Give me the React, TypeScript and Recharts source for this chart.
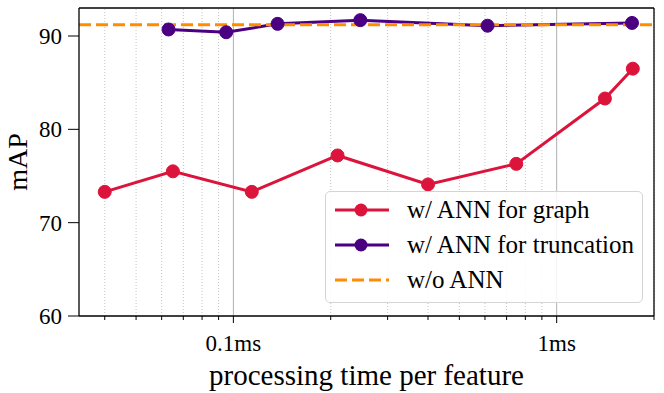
import { LineChart, Line, XAxis, YAxis, ReferenceLine, Legend } from "recharts";

// w/ ANN for graph
const graphTime = [0.04, 0.065, 0.114, 0.21, 0.4, 0.75, 1.41, 1.72];
const graphMAP = [73.3, 75.5, 73.3, 77.2, 74.1, 76.3, 83.3, 86.5];

// w/ ANN for truncation
const truncTime = [0.063, 0.095, 0.137, 0.247, 0.611, 1.71];
const truncMAP = [90.7, 90.4, 91.3, 91.7, 91.1, 91.4];

// w/o ANN
const baselineMAP = 91.2;

const majorTicks = [0.1, 1];
const majorLabels = ["0.1ms", "1ms"];
const minorTicks = [0.04, 0.05, 0.06, 0.07, 0.08, 0.09, 0.2, 0.3, 0.4, 0.5, 0.6, 0.7, 0.8, 0.9, 2];
const yTicks = [60, 70, 80, 90];

const xDomain = [0.0333, 2.0];
const yDomain = [60, 93];

const RED = "#dc143c";
const PURPLE = "#4b0082";
const ORANGE = "#ff8c00";
const FONT = "Liberation Serif, Times New Roman, serif";

const graphData = graphTime.map((t, i) => ({ t, v: graphMAP[i] }));
const truncData = truncTime.map((t, i) => ({ t, v: truncMAP[i] }));

const legendItems = [
  { label: "w/ ANN for graph", color: RED, dashed: false },
  { label: "w/ ANN for truncation", color: PURPLE, dashed: false },
  { label: "w/o ANN", color: ORANGE, dashed: true },
];

function XTick(props: any) {
  const { x, y, payload } = props;
  const idx = majorTicks.indexOf(payload.value);
  const major = idx >= 0;
  return (
    <g>
      <line x1={x} x2={x} y1={y} y2={y + (major ? 7 : 4)} stroke="#000" strokeWidth={1} />
      {major && (
        <text x={x} y={y + 35} textAnchor="middle" fontSize={23} fontFamily={FONT} fill="#000">
          {majorLabels[idx]}
        </text>
      )}
    </g>
  );
}

function LegendBox() {
  return (
    <div
      style={{
        position: "relative",
        width: 318,
        height: 112,
        boxSizing: "border-box",
        border: "1.5px solid #d4d4d4",
        borderRadius: 5,
        background: "rgba(255,255,255,0.85)",
        fontFamily: FONT,
        fontSize: 25,
        color: "#000",
      }}
    >
      {legendItems.map((it, i) => (
        <div key={it.label} style={{ position: "absolute", left: 0, top: 18 + i * 35 - 14, height: 28, width: 318 }}>
          <svg width={70} height={28} style={{ position: "absolute", left: 0, top: 0 }}>
            {it.dashed ? (
              <line x1={9} x2={63} y1={14} y2={14} stroke={it.color} strokeWidth={3} strokeDasharray="12 5" />
            ) : (
              <>
                <line x1={9} x2={63} y1={14} y2={14} stroke={it.color} strokeWidth={3} />
                <circle cx={35} cy={14} r={6.5} fill={it.color} />
              </>
            )}
          </svg>
          <span style={{ position: "absolute", left: 81, top: 0, lineHeight: "28px", whiteSpace: "nowrap" }}>
            {it.label}
          </span>
        </div>
      ))}
    </div>
  );
}

export default function App() {
  return (
    <div style={{ position: "absolute", left: 0, top: 0, width: 664, height: 393, background: "#fff", fontFamily: FONT }}>
      <LineChart width={664} height={393} margin={{ top: 8, right: 10, left: 0, bottom: 0 }}>
        <XAxis
          dataKey="t"
          type="number"
          scale="log"
          domain={xDomain}
          allowDataOverflow
          ticks={[...majorTicks, ...minorTicks]}
          interval={0}
          tick={<XTick />}
          tickLine={false}
          tickSize={0}
          tickMargin={0}
          height={77}
          axisLine={{ stroke: "#000", strokeWidth: 1.3 }}
          label={{ value: "processing time per feature", position: "insideBottom", offset: 8, fontSize: 29, fill: "#000", fontFamily: FONT }}
        />
        <YAxis
          type="number"
          domain={yDomain}
          ticks={yTicks}
          allowDataOverflow
          width={79}
          tickSize={11}
          tickMargin={6}
          tick={{ fontSize: 23, fill: "#000", fontFamily: FONT }}
          tickLine={{ stroke: "#000" }}
          axisLine={{ stroke: "#000", strokeWidth: 1.3 }}
          label={{ value: "mAP", angle: -90, position: "insideLeft", offset: 17, fontSize: 28, fill: "#000", fontFamily: FONT, style: { textAnchor: "middle" } }}
        />
        {minorTicks.map((v) => (
          <ReferenceLine key={"m" + v} x={v} stroke="#c4c4c4" strokeWidth={1} strokeDasharray="1 2" />
        ))}
        {majorTicks.map((v) => (
          <ReferenceLine key={"M" + v} x={v} stroke="#b0b0b0" strokeWidth={1} />
        ))}
        <ReferenceLine y={yDomain[1]} stroke="#000" strokeWidth={1.3} />
        <ReferenceLine x={xDomain[1]} stroke="#000" strokeWidth={1.3} />
        <Line
          data={graphData}
          dataKey="v"
          stroke={RED}
          strokeWidth={3}
          dot={{ r: 6.5, fill: RED, stroke: RED, strokeWidth: 1 }}
          isAnimationActive={false}
        />
        <Line
          data={truncData}
          dataKey="v"
          stroke={PURPLE}
          strokeWidth={3}
          dot={{ r: 6.5, fill: PURPLE, stroke: PURPLE, strokeWidth: 1 }}
          isAnimationActive={false}
        />
        <ReferenceLine y={baselineMAP} stroke={ORANGE} strokeWidth={3} strokeDasharray="12 5" />
        <Legend
          layout="vertical"
          align="center"
          verticalAlign="middle"
          content={() => <LegendBox />}
          wrapperStyle={{ left: 325, top: 191, width: 318, height: 112 }}
        />
      </LineChart>
    </div>
  );
}
